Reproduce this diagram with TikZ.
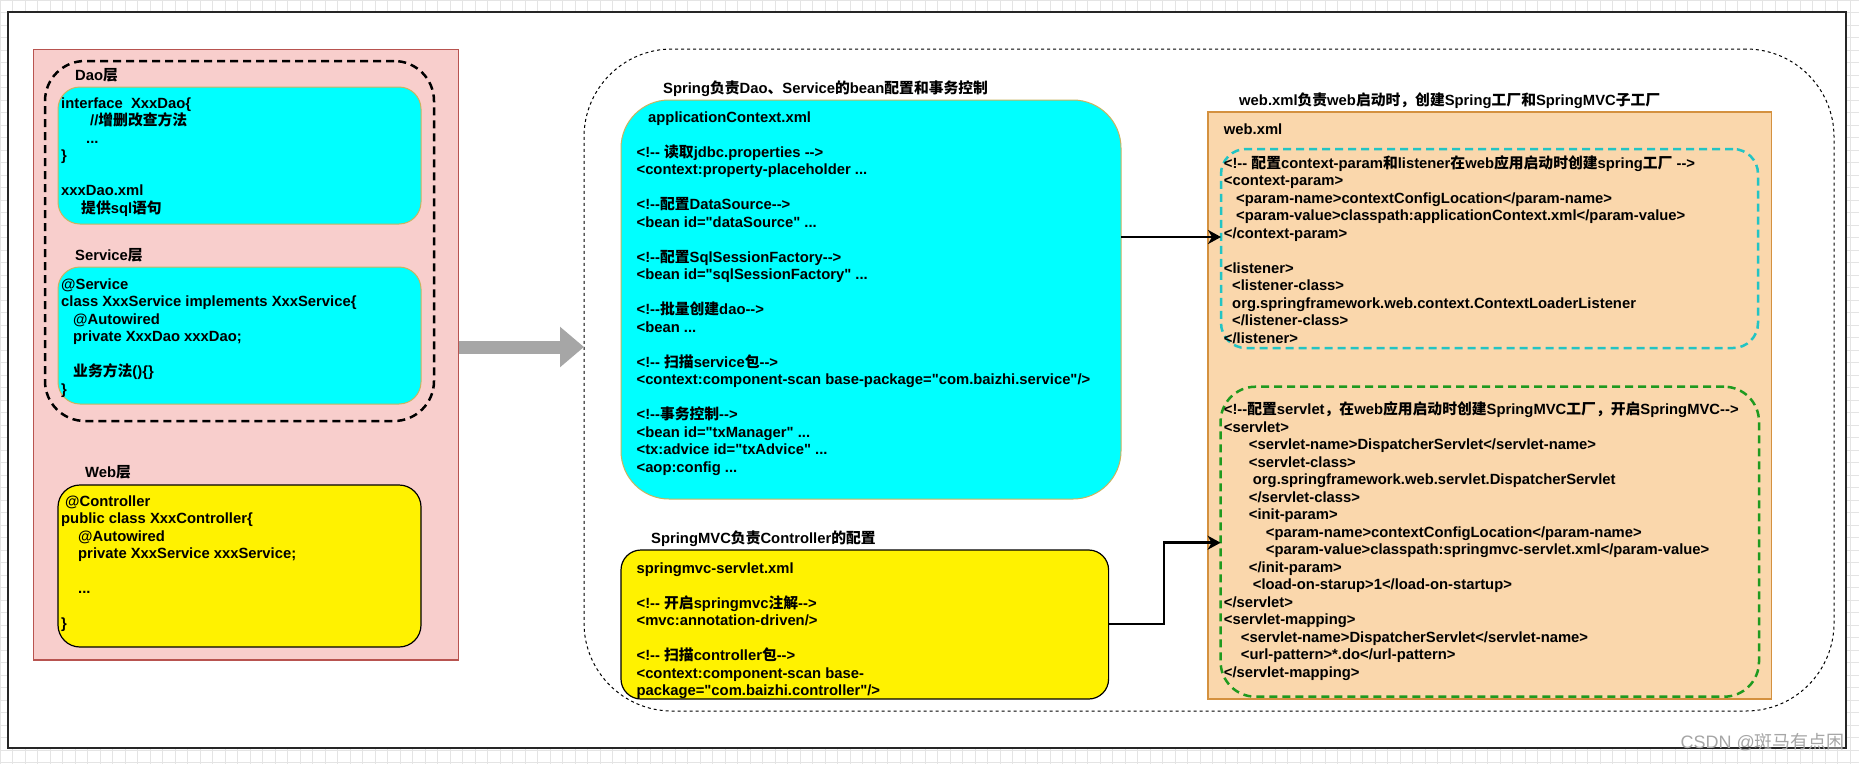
\documentclass[tikz,border=0pt]{standalone}
\usepackage{fontspec}
\setmainfont{Liberation Sans}[Ligatures=TeXOff]
\newfontfamily\cjk{Noto Sans CJK SC}[Ligatures=TeXOff]
\newcommand\zh[1]{{\cjk #1}}
\usetikzlibrary{arrows.meta}
\definecolor{pinkfill}{HTML}{F8CECC}
\definecolor{pinkline}{HTML}{B85450}
\definecolor{cyanfill}{HTML}{00FFFF}
\definecolor{cyanline}{HTML}{C9B460}
\definecolor{orfill}{HTML}{FAD7AC}
\definecolor{orline}{HTML}{D4913F}
\definecolor{tealdash}{HTML}{22C4C4}
\definecolor{greendash}{HTML}{1F9A1F}
\definecolor{arrowgray}{HTML}{A6A6A6}
\definecolor{gridgray}{HTML}{E4E4E4}
\newcommand\fs{\fontsize{14.8}{17.5}\selectfont\bfseries}
\newcommand\T{\rule{0pt}{14pt}}
\begin{document}
\begin{tikzpicture}[x=1pt,y=-1pt,
  box/.style={anchor=north west, inner sep=0pt, outer sep=0pt},
  txt/.style={anchor=north west, inner sep=0pt, align=left, font=\fs},
  conn/.style={line width=2.5pt, -{Stealth[length=13pt,width=14pt,inset=4pt]}},
  grpdash/.style={line width=2.5pt, dash pattern=on 8pt off 5pt},
]
\useasboundingbox (0,0) rectangle (1859,764);
\fill[white] (0,0) rectangle (1859,764);
\draw[gridgray, line width=0.6pt, step=12.5pt] (0pt,0pt) grid (1859pt,-764pt);
\node[box, draw=black!85, fill=white, line width=1.5pt, minimum width=1838pt, minimum height=736pt] (frame) at (8,12) {};

% left side
\node[box, draw=pinkline, fill=pinkfill, line width=1.3pt, minimum width=425pt, minimum height=610.5pt] (pink) at (33.5,49.5) {};
\node[box, draw=black, grpdash, rounded corners=40pt, minimum width=389pt, minimum height=360pt] (grp) at (45,61) {};
\node[box, draw=cyanline, fill=cyanfill, line width=1pt, rounded corners=22pt, minimum width=363pt, minimum height=137pt] (dao) at (58,87) {};
\node[box, draw=cyanline, fill=cyanfill, line width=1pt, rounded corners=22pt, minimum width=363pt, minimum height=137pt] (svc) at (58,267) {};
\node[box, draw=black, fill=yellow, line width=1.2pt, rounded corners=22pt, minimum width=363pt, minimum height=162pt] (web) at (58,485) {};

\node[txt] (daolbl) at (75,66) {\T Dao\zh{层}};
\node[txt] (daotxt) at (61,94) {\T interface\ \ XxxDao\{\\
\hspace*{29pt}//\zh{增删改查方法}\\
\hspace*{25pt}...\\
\}\\
\mbox{}\\
xxxDao.xml\\
\hspace*{20pt}\zh{提供}sql\zh{语句}};

\node[txt] (svclbl) at (75,246) {\T Service\zh{层}};
\node[txt] (svctxt) at (61,275) {\T @Service\\
class XxxService implements XxxService\{\\
\hspace*{12pt}@Autowired\\
\hspace*{12pt}private XxxDao xxxDao;\\
\mbox{}\\
\hspace*{12pt}\zh{业务方法}()\{\}\\
\}};

\node[txt] (weblbl) at (85,463) {\T Web\zh{层}};
\node[txt] (webtxt) at (61,492) {\T\hspace*{4pt}@Controller\\
public class XxxController\{\\
\hspace*{17pt}@Autowired\\
\hspace*{17pt}private XxxService xxxService;\\
\mbox{}\\
\hspace*{17pt}...\\
\mbox{}\\
\}};

% middle
\node[box, draw=black, line width=1pt, dash pattern=on 3pt off 3pt, rounded corners=88pt, minimum width=1250pt, minimum height=662pt] (big) at (584,49) {};
\node[box, draw=cyanline, fill=cyanfill, line width=1pt, rounded corners=48pt, minimum width=500pt, minimum height=399pt] (app) at (621,100) {};
\node[box, draw=black, fill=yellow, line width=1.2pt, rounded corners=20pt, minimum width=487.6pt, minimum height=149pt] (mvc) at (621,550) {};

\node[txt] (sprlbl) at (663,79) {\T Spring\zh{负责}Dao\zh{、}Service\zh{的}bean\zh{配置和事务控制}};
\node[txt] (apptxt) at (636.4,108) {\T\hspace*{11.6pt}applicationContext.xml\\
\mbox{}\\
<!-- \zh{读取}jdbc.properties -->\\
<context:property-placeholder ...\\
\mbox{}\\
<!--\zh{配置}DataSource-->\\
<bean id="dataSource" ...\\
\mbox{}\\
<!--\zh{配置}SqlSessionFactory-->\\
<bean id="sqlSessionFactory" ...\\
\mbox{}\\
<!--\zh{批量创建}dao-->\\
<bean ...\\
\mbox{}\\
<!-- \zh{扫描}service\zh{包}-->\\
<context:component-scan base-package="com.baizhi.service"/>\\
\mbox{}\\
<!--\zh{事务控制}-->\\
<bean id="txManager" ...\\
<tx:advice id="txAdvice" ...\\
<aop:config ...};

\node[txt] (mvclbl) at (651,529) {\T SpringMVC\zh{负责}Controller\zh{的配置}};
\node[txt] (mvctxt) at (636.4,559) {\T springmvc-servlet.xml\\
\mbox{}\\
<!-- \zh{开启}springmvc\zh{注解}-->\\
<mvc:annotation-driven/>\\
\mbox{}\\
<!-- \zh{扫描}controller\zh{包}-->\\
<context:component-scan base-\\
package="com.baizhi.controller"/>};

% right
\node[box, draw=orline, fill=orfill, line width=1.5pt, minimum width=563.5pt, minimum height=587pt] (wxbox) at (1208,112) {};
\node[box, draw=tealdash, grpdash, rounded corners=25pt, minimum width=537pt, minimum height=199pt] (teal) at (1221,149) {};
\node[box, draw=greendash, grpdash, rounded corners=35pt, minimum width=538.4pt, minimum height=310pt] (green) at (1220.6,386.7) {};

\node[txt] (wxlbl) at (1239,91) {\T web.xml\zh{负责}web\zh{启动时，创建}Spring\zh{工厂和}SpringMVC\zh{子工厂}};
\node[txt] (wxtitle) at (1223.7,120) {\T web.xml};
\node[txt] (tealtxt) at (1223.7,154) {\T <!-- \zh{配置}context-param\zh{和}listener\zh{在}web\zh{应用启动时创建}spring\zh{工厂} -->\\
<context-param>\\
\hspace*{12.3pt}<param-name>contextConfigLocation</param-name>\\
\hspace*{12.3pt}<param-value>classpath:applicationContext.xml</param-value>\\
</context-param>\\
\mbox{}\\
<listener>\\
\hspace*{8.3pt}<listener-class>\\
\hspace*{8.3pt}org.springframework.web.context.ContextLoaderListener\\
\hspace*{8.3pt}</listener-class>\\
</listener>};
\node[txt] (greentxt) at (1223.7,400.3) {\T <!--\zh{配置}servlet\zh{，在}web\zh{应用启动时创建}SpringMVC\zh{工厂，开启}SpringMVC-->\\
<servlet>\\
\hspace*{25pt}<servlet-name>DispatcherServlet</servlet-name>\\
\hspace*{25pt}<servlet-class>\\
\hspace*{29pt}org.springframework.web.servlet.DispatcherServlet\\
\hspace*{25pt}</servlet-class>\\
\hspace*{25pt}<init-param>\\
\hspace*{42pt}<param-name>contextConfigLocation</param-name>\\
\hspace*{42pt}<param-value>classpath:springmvc-servlet.xml</param-value>\\
\hspace*{25pt}</init-param>\\
\hspace*{29pt}<load-on-starup>1</load-on-startup>\\
</servlet>\\
<servlet-mapping>\\
\hspace*{17pt}<servlet-name>DispatcherServlet</servlet-name>\\
\hspace*{17pt}<url-pattern>*.do</url-pattern>\\
</servlet-mapping>};

% connectors
\coordinate (ga) at (0,347);
\draw[arrowgray, line width=13pt, -{Triangle[length=24pt,width=39pt]}] (pink.east |- ga) -- (big.west |- ga);
\coordinate (a1) at (0,237);
\draw[conn] (app.east |- a1) -- (teal.west |- a1);
\coordinate (k) at (1164,624);
\coordinate (a2) at (0,542.7);
\draw[conn] (mvc.east |- k) -- (k) |- (green.west |- a2);

\node[anchor=base east, inner sep=0pt, font=\fontsize{18}{20}\selectfont, text=black!35] (wm) at (1845,748.5) {CSDN @\zh{斑马有点困}};
\end{tikzpicture}
\end{document}
